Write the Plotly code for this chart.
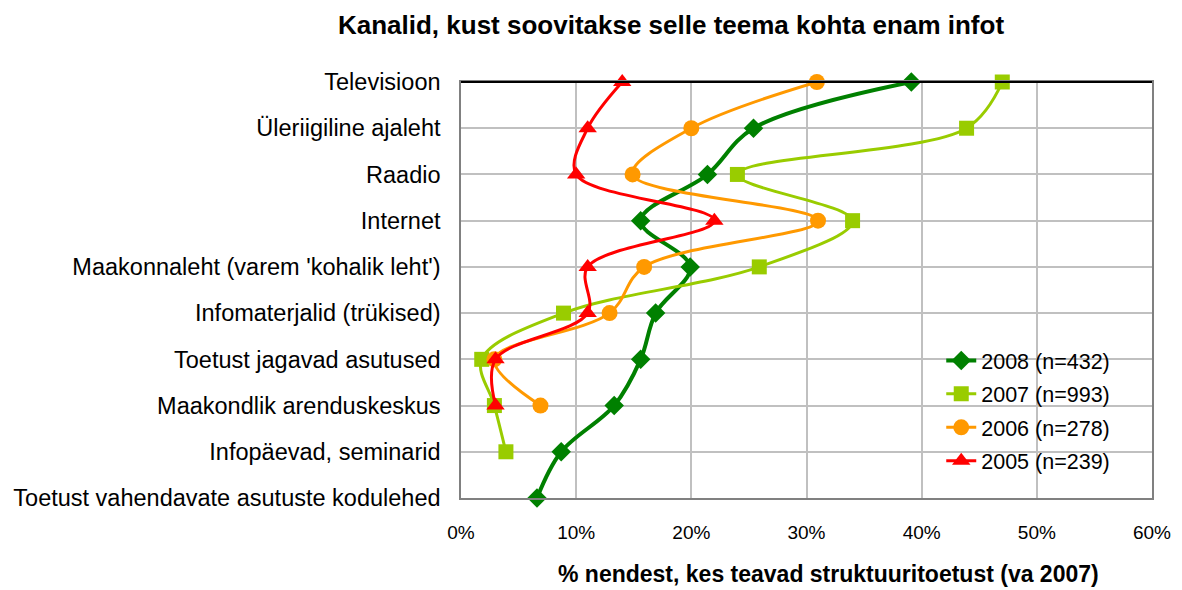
import plotly.graph_objects as go

categories = [
    "Televisioon",
    "Üleriigiline ajaleht",
    "Raadio",
    "Internet",
    "Maakonnaleht (varem 'kohalik leht')",
    "Infomaterjalid (trükised)",
    "Toetust jagavad asutused",
    "Maakondlik arenduskeskus",
    "Infopäevad, seminarid",
    "Toetust vahendavate asutuste kodulehed",
]

v2008 = [39.1, 25.4, 21.4, 15.6, 19.9, 16.9, 15.6, 13.3, 8.7, 6.6]
v2007 = [47.0, 43.9, 24.0, 34.0, 25.9, 8.9, 1.8, 2.9, 3.9]
v2006 = [30.9, 20.0, 14.9, 31.0, 15.9, 12.9, 2.9, 6.9]
v2005 = [14.0, 11.0, 10.0, 22.0, 11.0, 11.0, 3.0, 3.0]

series = [
    ("2008 (n=432)", v2008, "#008000", "diamond", 15, 4),
    ("2007 (n=993)", v2007, "#99CC00", "square", 15, 3),
    ("2006 (n=278)", v2006, "#FF9900", "circle", 16, 3),
    ("2005 (n=239)", v2005, "#FF0000", "triangle-up", 16, 3),
]

x_ticks = [0, 10, 20, 30, 40, 50, 60]
x_ticklabels = ["0%", "10%", "20%", "30%", "40%", "50%", "60%"]

FONT = "Liberation Sans, Arial, sans-serif"

fig = go.Figure()
for name, vals, color, sym, msize, lw in series:
    fig.add_trace(go.Scatter(
        x=vals,
        y=categories[:len(vals)],
        name=name,
        legendgroup=name,
        mode="lines+markers",
        line=dict(color=color, width=lw, shape="spline", smoothing=1.0),
        marker=dict(symbol=sym, size=msize, color=color),
        cliponaxis=False,
    ))

# page body has an 8px margin; compensate so the plot area sits where the reference has it
W, H = 1174, 582
fig.update_layout(
    width=W,
    height=H,
    margin=dict(l=453, r=30, t=74, b=92, autoexpand=False),
    paper_bgcolor="white",
    plot_bgcolor="white",
    font=dict(family=FONT, color="black"),
    title=dict(
        text="<b>Kanalid, kust soovitakse selle teema kohta enam infot</b>",
        font=dict(size=26, family=FONT, color="black"),
        xref="container", x=(671 - 8) / W, xanchor="center",
        yref="container", y=1 - (25 - 8) / H, yanchor="middle",
    ),
    showlegend=True,
    legend=dict(
        x=0.695, y=0.38, xanchor="left", yanchor="top",
        bgcolor="rgba(255,255,255,0)", borderwidth=0,
        font=dict(size=21.5, family=FONT, color="black"),
        traceorder="grouped",
        tracegroupgap=2.5,
    ),
    xaxis=dict(
        range=[0, 60],
        tickvals=x_ticks,
        ticktext=x_ticklabels,
        showgrid=True, gridcolor="#C0C0C0", gridwidth=1.5,
        zeroline=False,
        showline=True, linecolor="#808080", linewidth=1.5, mirror=True,
        ticks="outside", ticklen=16, tickcolor="rgba(0,0,0,0)",
        tickfont=dict(size=19, family=FONT, color="black"),
    ),
    yaxis=dict(
        type="category",
        categoryorder="array",
        categoryarray=categories,
        range=[9, 0],
        showgrid=True, gridcolor="#C0C0C0", gridwidth=1.5,
        zeroline=False,
        showline=True, linecolor="#808080", linewidth=1.5, mirror=True,
        ticks="outside", ticklen=14, tickcolor="rgba(0,0,0,0)",
        tickfont=dict(size=23.5, family=FONT, color="black"),
    ),
    shapes=[
        dict(
            type="line", xref="paper", yref="paper",
            x0=0, x1=1, y0=1, y1=1,
            line=dict(color="black", width=2),
            layer="above",
        ),
        dict(
            type="rect", xref="paper", yref="paper",
            x0=(910 - 461) / 691, x1=(1134 - 461) / 691,
            y0=(498 - 475) / 416, y1=(498 - 344) / 416,
            fillcolor="white", line=dict(width=0),
            layer="between",
        ),
    ],
    annotations=[dict(
        text="<b>% nendest, kes teavad struktuuritoetust (va 2007)</b>",
        xref="paper", yref="paper",
        x=(828 - 461) / 691, y=(498 - 589) / 416,
        xanchor="center", yanchor="bottom",
        showarrow=False,
        font=dict(size=23, family=FONT, color="black"),
    )],
)

fig.write_html("out.html")
